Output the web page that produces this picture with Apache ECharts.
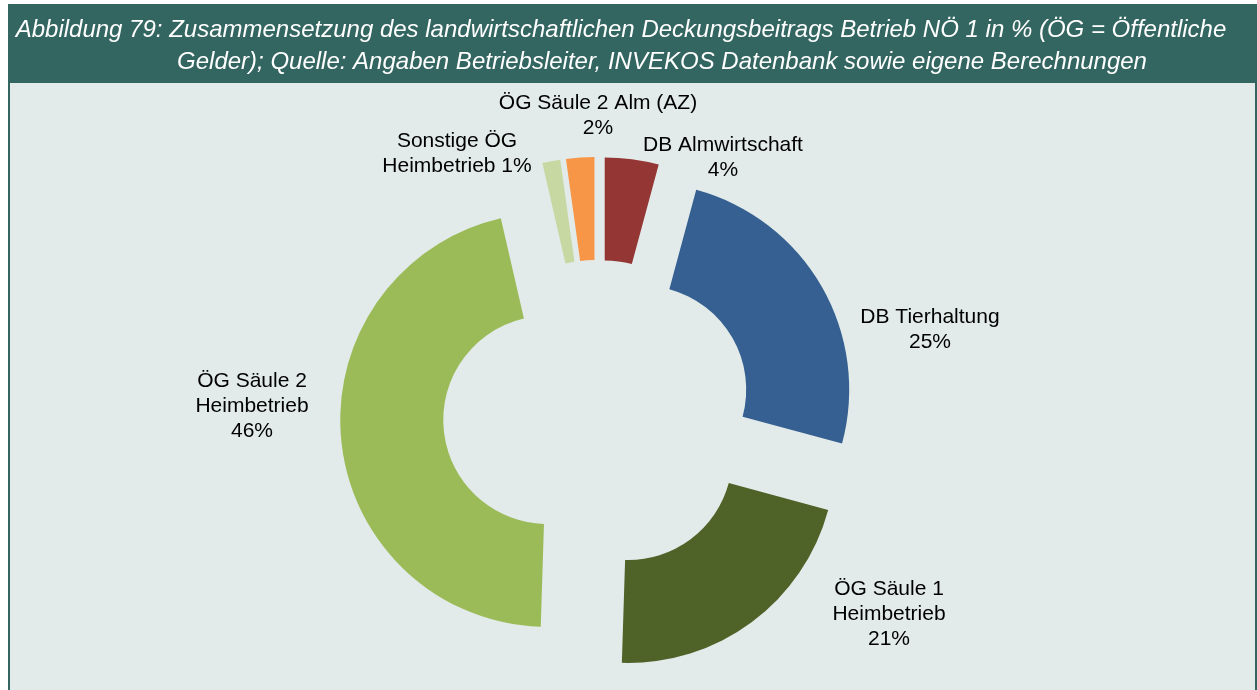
<!DOCTYPE html>
<html>
<head>
<meta charset="utf-8">
<title>Zusammensetzung des landwirtschaftlichen Deckungsbeitrags Betrieb NÖ 1</title>
<script src="https://cdn.jsdelivr.net/npm/echarts@6/dist/echarts.min.js"></script>
<style>
  html, body { margin: 0; padding: 0; background: #ffffff; }
  #chart { width: 1257px; height: 690px; }
</style>
</head>
<body>
<div id="chart"></div>
<script>
// Anteile am landwirtschaftlichen Deckungsbeitrag (in %), im Uhrzeigersinn ab 12 Uhr
const categories = [
  'DB Almwirtschaft',
  'DB Tierhaltung',
  'ÖG Säule 1\nHeimbetrieb',
  'ÖG Säule 2\nHeimbetrieb',
  'Sonstige ÖG\nHeimbetrieb',
  'ÖG Säule 2 Alm (AZ)'
];
const shares = [4.2, 25.0, 21.3, 45.9, 1.4, 2.2];
const sliceColors = ['#943634', '#366092', '#4F6228', '#9BBB59', '#C8D8A2', '#F79646'];
// separator between name and percentage in each label
const percentJoin = ['\n', '\n', '\n', '\n', ' ', '\n'];

const titleLines = [
  'Abbildung 79: Zusammensetzung des landwirtschaftlichen Deckungsbeitrags Betrieb NÖ 1 in % (ÖG = Öffentliche',
  'Gelder); Quelle: Angaben Betriebsleiter, INVEKOS Datenbank sowie eigene Berechnungen'
];

// label block centres (px), one per slice
const labelCentres = [
  [723, 158], [930, 330], [889, 614], [252, 406], [457, 154], [598, 116]
];

const FRAME = '#336661';
const PANEL = '#E2EBE9';
const FONT = 'Liberation Sans, Arial, Helvetica, sans-serif';

const chart = echarts.init(document.getElementById('chart'), null, { renderer: 'canvas' });

const sliceLabels = categories.map((name, i) => ({
  type: 'text', z: 3, silent: true,
  style: {
    text: name + percentJoin[i] + Math.round(shares[i]) + '%',
    x: labelCentres[i][0], y: labelCentres[i][1],
    align: 'center', verticalAlign: 'middle',
    fill: '#000000', font: '21px ' + FONT, lineHeight: 25
  }
}));

chart.setOption({
  animation: false,
  backgroundColor: '#ffffff',
  graphic: [
    {
      type: 'rect', z: 0, silent: true,
      shape: { x: 9, y: 5, width: 1247, height: 720 },
      style: { fill: PANEL, stroke: FRAME, lineWidth: 2 }
    },
    {
      type: 'rect', z: 1, silent: true,
      shape: { x: 8, y: 5, width: 1252, height: 78 },
      style: { fill: FRAME }
    },
    {
      type: 'text', z: 2, silent: true,
      style: {
        text: titleLines[0], x: 621, y: 30, align: 'center', verticalAlign: 'middle',
        fill: '#ffffff', font: 'italic 24px ' + FONT
      }
    },
    {
      type: 'text', z: 2, silent: true,
      style: {
        text: titleLines[1], x: 662, y: 62, align: 'center', verticalAlign: 'middle',
        fill: '#ffffff', font: 'italic 24px ' + FONT
      }
    }
  ].concat(sliceLabels),
  series: [{
    type: 'pie',
    z: 2,
    center: [598, 415],
    radius: [104, 207],
    startAngle: 90,
    clockwise: true,
    selectedMode: 'multiple',
    selectedOffset: 51,
    avoidLabelOverlap: false,
    silent: true,
    emphasis: { disabled: true },
    itemStyle: { borderWidth: 0 },
    label: { show: false },
    labelLine: { show: false },
    data: categories.map((name, i) => ({
      name: name,
      value: shares[i],
      selected: true,
      itemStyle: { color: sliceColors[i] }
    }))
  }]
});
</script>
</body>
</html>
